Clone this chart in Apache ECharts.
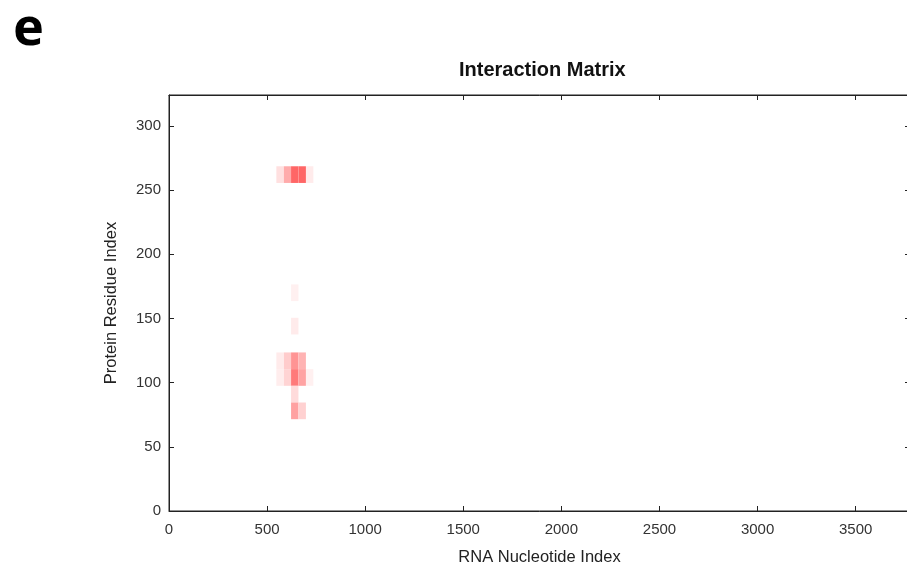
<!DOCTYPE html>
<html>
<head>
<meta charset="utf-8">
<script src="https://cdn.jsdelivr.net/npm/echarts@6/dist/echarts.min.js"></script>
<style>
  html, body { margin: 0; padding: 0; background: #fff; overflow: hidden; }
  #chart { width: 912px; height: 568px; }
</style>
</head>
<body>
<div id="chart"></div>
<script>
// binned contact map: cell centres (nucleotide, residue) and intensity 0..1
var cellX = [566, 604, 641, 679, 717,
             566, 604, 641, 679,
             566, 604, 641, 679, 717,
             641,
             641, 679,
             641, 641];
var cellY = [262, 262, 262, 262, 262,
             117, 117, 117, 117,
             104, 104, 104, 104, 104,
             91,
             78, 78,
             170, 144];
var cellValue = [0.12, 0.33, 0.6, 0.6, 0.08,
                 0.08, 0.2, 0.42, 0.3,
                 0.07, 0.17, 0.52, 0.36, 0.06,
                 0.14,
                 0.37, 0.18,
                 0.06, 0.08];
var xMax = 3777;
var yMax = 324;
var binW = 37.6;
var binH = 13;

var cells = cellX.map(function (x, i) { return [x, cellY[i], cellValue[i]]; });

var chart = echarts.init(document.getElementById('chart'));
var axisColor = '#222';
var labelStyle = { color: '#333', fontSize: 15, fontFamily: 'Liberation Sans' };
var plain = function (v) { return String(v); };
var ticks = { inside: true, length: 5, lineStyle: { color: axisColor } };

option = {
    backgroundColor: '#fff',
    animation: false,
    title: {
        text: 'Interaction Matrix',
        left: 454,
        top: 55,
        textStyle: { fontFamily: 'Liberation Sans', fontSize: 20, fontWeight: 'bold', color: '#111' }
    },
    graphic: [{
        type: 'text',
        left: 13,
        top: 4,
        style: { text: 'e', font: 'bold 52px "Noto Sans"', fill: '#000' }
    }],
    grid: {
        left: 169,
        top: 95,
        width: 741,
        height: 416,
        show: true,
        borderColor: axisColor,
        borderWidth: 1,
        outerBoundsMode: 'none'
    },
    xAxis: [{
        type: 'value',
        min: 0,
        max: xMax,
        interval: 500,
        name: 'RNA Nucleotide Index',
        nameLocation: 'middle',
        nameGap: 38,
        nameTextStyle: { color: '#222', fontSize: 16.5, fontFamily: 'Liberation Sans' },
        axisLine: { show: true, onZero: false, lineStyle: { color: axisColor } },
        axisTick: ticks,
        axisLabel: Object.assign({ margin: 11, showMaxLabel: false, formatter: plain }, labelStyle),
        splitLine: { show: false }
    }, {
        type: 'value',
        position: 'top',
        min: 0,
        max: xMax,
        interval: 500,
        axisLine: { show: true, onZero: false, lineStyle: { color: axisColor } },
        axisTick: ticks,
        axisLabel: { show: false },
        splitLine: { show: false }
    }],
    yAxis: [{
        type: 'value',
        min: 0,
        max: yMax,
        interval: 50,
        name: 'Protein Residue Index',
        nameLocation: 'middle',
        nameGap: 49,
        nameTextStyle: { color: '#222', fontSize: 16.5, fontFamily: 'Liberation Sans' },
        axisLine: { show: true, onZero: false, lineStyle: { color: axisColor } },
        axisTick: ticks,
        axisLabel: Object.assign({ margin: 8, showMaxLabel: false, formatter: plain }, labelStyle),
        splitLine: { show: false }
    }, {
        type: 'value',
        position: 'right',
        min: 0,
        max: yMax,
        interval: 50,
        axisLine: { show: true, onZero: false, lineStyle: { color: axisColor } },
        axisTick: ticks,
        axisLabel: { show: false },
        splitLine: { show: false }
    }],
    series: [{
        type: 'custom',
        xAxisIndex: 0,
        yAxisIndex: 0,
        data: cells,
        renderItem: function (params, api) {
            var x = api.value(0), y = api.value(1), v = api.value(2);
            var p0 = api.coord([x - binW / 2, y + binH / 2]);
            var p1 = api.coord([x + binW / 2, y - binH / 2]);
            var c = Math.round(255 * (1 - v));
            return {
                type: 'rect',
                shape: { x: p0[0], y: p0[1], width: p1[0] - p0[0], height: p1[1] - p0[1] },
                style: { fill: 'rgb(255,' + c + ',' + c + ')' }
            };
        }
    }, {
        // empty series so the mirrored top/right axes are laid out too
        type: 'line',
        xAxisIndex: 1,
        yAxisIndex: 1,
        data: []
    }]
};
chart.setOption(option);
</script>
</body>
</html>
